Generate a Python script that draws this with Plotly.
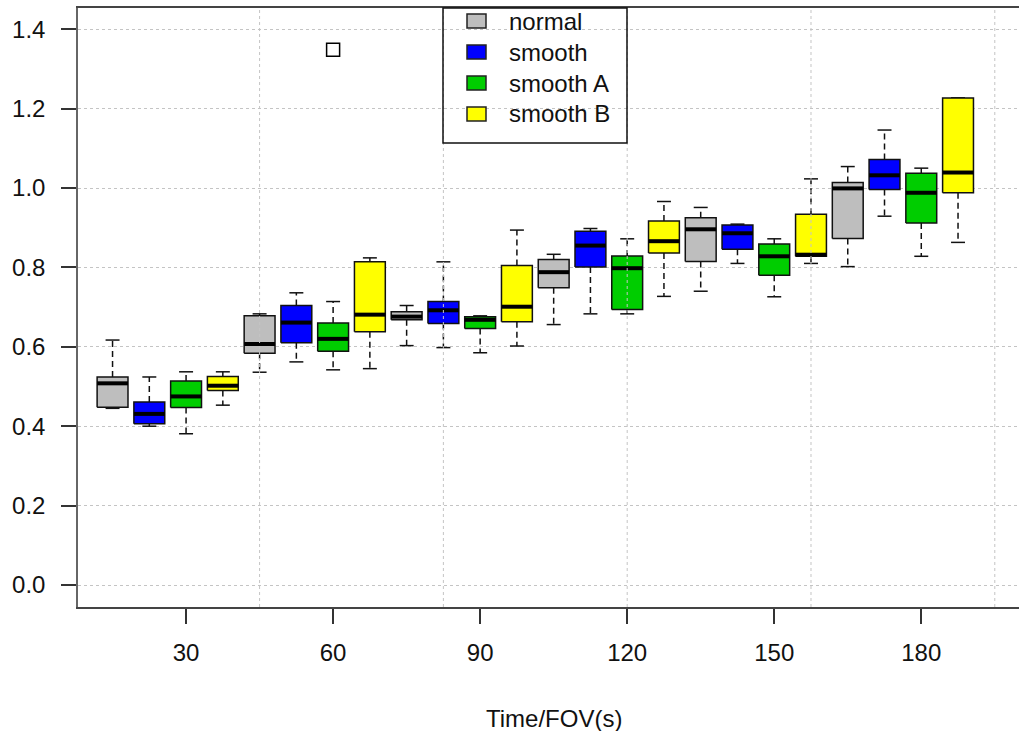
import plotly.graph_objects as go

# Time points (s) and the four smoothing variants
times = ["30", "60", "90", "120", "150", "180"]
series = ["normal", "smooth", "smooth A", "smooth B"]
colors = ["#bebebe", "#0000ff", "#00cd00", "#ffff00"]

# Box statistics per time point: (lower whisker, Q1, median, Q3, upper whisker)
normal = [
    (0.445, 0.448, 0.508, 0.524, 0.617),
    (0.536, 0.584, 0.607, 0.678, 0.683),
    (0.603, 0.668, 0.676, 0.688, 0.704),
    (0.656, 0.749, 0.788, 0.820, 0.833),
    (0.740, 0.815, 0.896, 0.925, 0.951),
    (0.802, 0.873, 0.999, 1.014, 1.054),
]
smooth = [
    (0.400, 0.406, 0.431, 0.461, 0.524),
    (0.562, 0.610, 0.661, 0.704, 0.736),
    (0.598, 0.659, 0.692, 0.714, 0.814),
    (0.683, 0.801, 0.855, 0.891, 0.898),
    (0.810, 0.846, 0.886, 0.907, 0.909),
    (0.929, 0.996, 1.032, 1.072, 1.146),
]
smooth_a = [
    (0.381, 0.447, 0.475, 0.514, 0.537),
    (0.542, 0.589, 0.620, 0.660, 0.714),
    (0.585, 0.646, 0.668, 0.676, 0.678),
    (0.683, 0.694, 0.798, 0.829, 0.872),
    (0.726, 0.780, 0.828, 0.859, 0.872),
    (0.828, 0.912, 0.988, 1.037, 1.050),
]
smooth_b = [
    (0.453, 0.490, 0.502, 0.525, 0.537),
    (0.545, 0.638, 0.681, 0.814, 0.824),
    (0.602, 0.663, 0.701, 0.805, 0.894),
    (0.727, 0.836, 0.866, 0.917, 0.966),
    (0.810, 0.828, 0.832, 0.934, 1.023),
    (0.863, 0.988, 1.039, 1.227, 1.227),
]
stats = [normal, smooth, smooth_a, smooth_b]

# Outlying observations
outlier_time = ["60"]
outlier_series = ["smooth A"]
outlier_value = [1.348]

y_ticks = [0.0, 0.2, 0.4, 0.6, 0.8, 1.0, 1.2, 1.4]

FONT = "Liberation Sans, Arial, sans-serif"
W, H = 1019, 731
ML, MR, MT, MB = 78, 0, 8, 124
BOX_HALF = 0.42
CAP_HALF = 0.19
n_series = len(series)


def position(g, s):
    return g * n_series + s + 1


fig = go.Figure()

for s, (name, col, rows) in enumerate(zip(series, colors, stats)):
    bx, by, wx, wy, cx, cy, mx, my = [], [], [], [], [], [], [], []
    for g, (lo, q1, med, q3, hi) in enumerate(rows):
        p = position(g, s)
        bx += [p - BOX_HALF, p + BOX_HALF, p + BOX_HALF, p - BOX_HALF, p - BOX_HALF, None]
        by += [q1, q1, q3, q3, q1, None]
        wx += [p, p, None, p, p, None]
        wy += [q3, hi, None, q1, lo, None]
        cx += [p - CAP_HALF, p + CAP_HALF, None, p - CAP_HALF, p + CAP_HALF, None]
        cy += [hi, hi, None, lo, lo, None]
        mx += [p - BOX_HALF, p + BOX_HALF, None]
        my += [med, med, None]
    fig.add_trace(go.Scatter(x=wx, y=wy, mode="lines", showlegend=False, hoverinfo="skip",
                             line=dict(color="#111111", width=1.5, dash="6px,4px")))
    fig.add_trace(go.Scatter(x=cx, y=cy, mode="lines", showlegend=False, hoverinfo="skip",
                             line=dict(color="#111111", width=1.5)))
    fig.add_trace(go.Scatter(x=bx, y=by, mode="lines", fill="toself", fillcolor=col,
                             name=name, showlegend=False,
                             line=dict(color="#111111", width=1.5)))
    fig.add_trace(go.Scatter(x=mx, y=my, mode="lines", showlegend=False, hoverinfo="skip",
                             line=dict(color="#000000", width=4)))

ox = [position(times.index(t), series.index(sn)) for t, sn in zip(outlier_time, outlier_series)]
fig.add_trace(go.Scatter(x=ox, y=outlier_value, mode="markers", showlegend=False,
                         marker=dict(symbol="square-open", size=13, color="#000000",
                                     line=dict(width=1.5))))

n_boxes = n_series * len(times)
tick_pos = [position(g, 2) for g in range(len(times))]
grid_x = list(range(5, n_boxes + 2, 5))

shapes = []
for gx in grid_x:
    shapes.append(dict(type="line", xref="x", yref="paper", x0=gx, x1=gx, y0=0, y1=1,
                       line=dict(color="#c4c4c4", width=1, dash="3px,3px"), layer="above"))


def px_x(px):
    return (px - ML) / (W - ML - MR)


def px_y(py):
    return (H - MB - py) / (H - MT - MB)


# Legend frame, swatches and labels
shapes.append(dict(type="rect", xref="paper", yref="paper",
                   x0=px_x(443), x1=px_x(627), y0=px_y(143), y1=px_y(8),
                   line=dict(color="#111111", width=1.5), fillcolor="rgba(0,0,0,0)",
                   layer="above"))
annotations = []
row_centers = [21, 52, 83, 114]
for name, col, cy in zip(series, colors, row_centers):
    shapes.append(dict(type="rect", xref="paper", yref="paper",
                       x0=px_x(467), x1=px_x(486), y0=px_y(cy + 7), y1=px_y(cy - 7),
                       line=dict(color="#222222", width=1.5), fillcolor=col, layer="above"))
    annotations.append(dict(text=name, xref="paper", yref="paper", x=px_x(507), y=px_y(cy),
                            xanchor="left", yanchor="middle", showarrow=False,
                            font=dict(family=FONT, size=24, color="#111111")))

annotations.append(dict(text="Time/FOV(s)", xref="paper", yref="paper",
                        x=px_x(554), y=px_y(718), xanchor="center", yanchor="middle",
                        showarrow=False, font=dict(family=FONT, size=24, color="#111111")))

x_lo = 0.06
x_hi = x_lo + (W - ML - MR) / 36.76

fig.update_layout(
    width=W, height=H,
    margin=dict(l=ML, r=MR, t=MT, b=MB, pad=0),
    paper_bgcolor="white", plot_bgcolor="white",
    showlegend=False,
    shapes=shapes,
    annotations=annotations,
    xaxis=dict(range=[x_lo, x_hi], tickmode="array", tickvals=tick_pos, ticktext=times,
               ticks="outside", ticklen=15, tickwidth=1.5, tickcolor="#333333",
               showline=True, linecolor="#444444", linewidth=1.5, mirror=True,
               showgrid=False, zeroline=False, ticklabelstandoff=8,
               tickfont=dict(family=FONT, size=24, color="#111111")),
    yaxis=dict(range=[-0.0554, 1.4534], tickmode="array", tickvals=y_ticks,
               tickformat=".1f", ticks="outside", ticklen=15, tickwidth=1.5,
               tickcolor="#333333", showline=True, linecolor="#666666", linewidth=1.5,
               showgrid=True, gridcolor="#c4c4c4", gridwidth=1, griddash="3px,3px",
               zeroline=False, layer="above traces", ticklabelstandoff=11,
               tickfont=dict(family=FONT, size=24, color="#111111")),
)

fig.write_html("out.html")
